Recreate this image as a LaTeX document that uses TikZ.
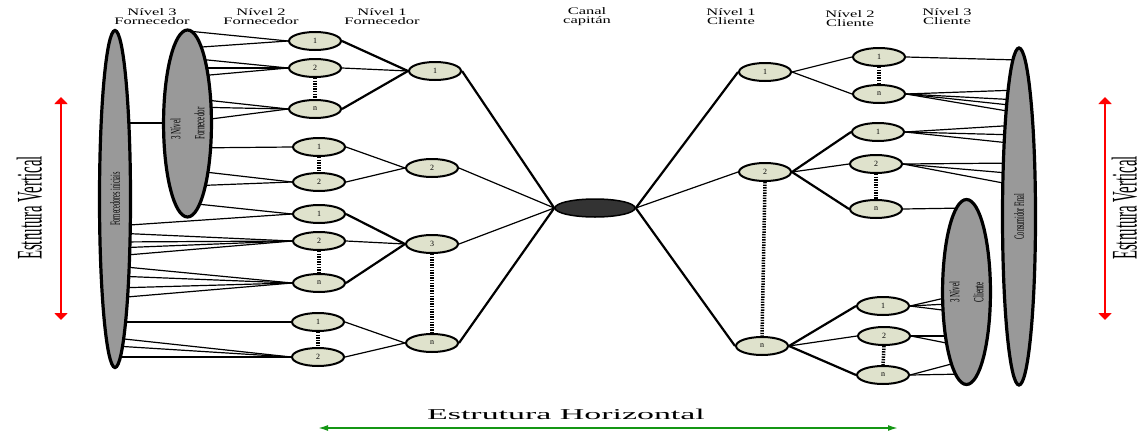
\documentclass[tikz,border=0pt]{standalone}
\usepackage{fontspec}
\setmainfont{Liberation Serif}
\usepackage{graphicx}
\usetikzlibrary{arrows.meta, shapes.geometric, backgrounds}

\definecolor{nodefill}{RGB}{223,226,204}
\definecolor{ovalgray}{RGB}{153,153,153}
\definecolor{hubfill}{RGB}{51,51,51}
\definecolor{axisgreen}{RGB}{20,150,20}

\newcommand{\wide}[2][1.65]{\scalebox{#1}[1]{#2}}
\newcommand{\narrow}[2][0.5]{\scalebox{#1}[1]{#2}}

\begin{document}
\begin{tikzpicture}[x=1pt, y=-1pt,
      lvl/.style={ellipse, draw, line width=2pt, fill=nodefill, minimum width=52pt, minimum height=18pt, inner sep=0pt, font=\fontsize{8}{8}\selectfont},
      oval/.style={ellipse, draw, line width=3.2pt, fill=ovalgray, inner sep=0pt, rotate=90, align=left, font=\fontsize{14}{24}\selectfont},
      hub/.style={ellipse, draw, line width=1.5pt, fill=hubfill, minimum width=80pt, minimum height=18pt},
      head/.style={align=center, font=\fontsize{10}{9}\selectfont},
      conn/.style={line width=1.2pt},
      link/.style={line width=2.2pt},
      dots/.style={line width=3.5pt, dash pattern=on 1.4pt off 1.2pt},
      vlabel/.style={rotate=90, inner sep=0pt, text height=25pt, text depth=0pt, font=\fontsize{36}{36}\selectfont},
      vaxis/.style={line width=2.8pt, red, {Triangle[width=13pt,length=7pt]}-{Triangle[width=13pt,length=7pt]}},
      haxis/.style={line width=1.6pt, axisgreen, {Latex[width=6pt,length=10pt]}-{Latex[width=6pt,length=10pt]}}]

      \useasboundingbox (0,0) rectangle (1145,431);

      % Headers
      \node[head] (h3f) at (152,17) {\wide{Nível 3}\\\wide{Fornecedor}};
      \node[head] (h2f) at (261,17) {\wide{Nível 2}\\\wide{Fornecedor}};
      \node[head] (h1f) at (382,17) {\wide{Nível 1}\\\wide{Fornecedor}};
      \node[head] (hcc) at (587,17) {\wide{Canal}\\\wide{capitán}};
      \node[head] (h1c) at (731,17) {\wide{Nível 1}\\\wide{Cliente}};
      \node[head] (h2c) at (850,19) {\wide{Nível 2}\\\wide{Cliente}};
      \node[head] (h3c) at (947,17) {\wide{Nível 3}\\\wide{Cliente}};

      % Big ovals
      \node[oval, minimum width=337pt, minimum height=31pt] (forn0) at (115,199) {\narrow[0.45]{Fornecedores iniciais}};
      \node[oval, minimum width=187pt, minimum height=45pt] (forn3) at (187.5,123.5) {\narrow{3 Nível}\\\narrow{Fornecedor}};
      \node[oval, minimum width=337pt, minimum height=33pt] (cons) at (1019,216.5) {\narrow[0.45]{Consumidor Final}};
      \node[oval, minimum width=185pt, minimum height=46pt] (cli3) at (966.5,292) {\narrow{3 Nível}\\\narrow{Cliente}};

      % Level 2 suppliers
      \node[lvl] (a1) at (315,41) {1};
      \node[lvl] (a2) at (315,68) {2};
      \node[lvl] (an) at (315,109) {n};
      \node[lvl] (b1) at (319,147) {1};
      \node[lvl] (b2) at (319,182) {2};
      \node[lvl] (c1) at (319,214) {1};
      \node[lvl] (c2) at (319,241) {2};
      \node[lvl] (cn) at (319,283) {n};
      \node[lvl] (d1) at (318,322) {1};
      \node[lvl] (d2) at (318,357) {2};

      % Level 1 suppliers
      \node[lvl] (f1) at (435,71) {1};
      \node[lvl] (f2) at (432,168) {2};
      \node[lvl] (f3) at (432,244) {3};
      \node[lvl] (fn) at (432,343) {n};

      \node[hub] (hub) at (595,208) {};

      % Level 1 clients
      \node[lvl] (k1) at (765,72) {1};
      \node[lvl] (k2) at (765,172) {2};
      \node[lvl] (kn) at (762,346) {n};

      % Level 2 clients
      \node[lvl] (l1) at (879,57) {1};
      \node[lvl] (ln) at (879,94) {n};
      \node[lvl] (m1) at (878,132) {1};
      \node[lvl] (m2) at (876,164) {2};
      \node[lvl] (mn) at (876,209) {n};
      \node[lvl] (n1) at (883,306) {1};
      \node[lvl] (n2) at (884,336) {2};
      \node[lvl] (nn) at (883,375) {n};

      % Lines into the ovals
      \begin{pgfonlayer}{background}
        \draw[conn] (forn0 |- 0,123) -- (forn3 |- 0,123);
        \foreach \y in {31,48} \draw[conn] (a1.west) -- (forn3 |- 0,\y);
        \foreach \y in {58,68,77} \draw[conn] (a2.west) -- (forn3 |- 0,\y);
        \foreach \y in {98,107,122} \draw[conn] (an.west) -- (forn3 |- 0,\y);
        \foreach \y in {148} \draw[conn] (b1.west) -- (forn3 |- 0,\y);
        \foreach \y in {170,186} \draw[conn] (b2.west) -- (forn3 |- 0,\y);
        \draw[conn] (c1.west) -- (forn3 |- 0,203);
        \draw[conn] (c1.west) -- (forn0 |- 0,226);
        \foreach \y in {233,242,248,256} \draw[conn] (c2.west) -- (forn0 |- 0,\y);
        \foreach \y in {266,276,288,298} \draw[conn] (cn.west) -- (forn0 |- 0,\y);
        \draw[conn] (d1.west) -- (forn0 |- 0,322);
        \foreach \y in {338,346,357} \draw[conn] (d2.west) -- (forn0 |- 0,\y);

        \draw[conn] (l1.east) -- (cons |- 0,60);
        \foreach \y in {90,100,106,113} \draw[conn] (ln.east) -- (cons |- 0,\y);
        \foreach \y in {125,135,144} \draw[conn] (m1.east) -- (cons |- 0,\y);
        \foreach \y in {163,174,186} \draw[conn] (m2.east) -- (cons |- 0,\y);
        \draw[conn] (mn.east) -- (cli3 |- 0,208);
        \foreach \y in {293,303,313} \draw[conn] (n1.east) -- (cli3 |- 0,\y);
        \foreach \y in {336,347} \draw[conn] (n2.east) -- (cli3 |- 0,\y);
        \foreach \y in {360,374} \draw[conn] (nn.east) -- (cli3 |- 0,\y);
      \end{pgfonlayer}

      % Supplier side
      \draw[link] (a1.east) -- (f1.west);
      \draw[conn] (a2.east) -- (f1.west);
      \draw[link] (an.east) -- (f1.west);
      \draw[conn] (b1.east) -- (f2.west);
      \draw[conn] (b2.east) -- (f2.west);
      \draw[link] (c1.east) -- (f3.west);
      \draw[conn] (c2.east) -- (f3.west);
      \draw[link] (cn.east) -- (f3.west);
      \draw[conn] (d1.east) -- (fn.west);
      \draw[conn] (d2.east) -- (fn.west);
      \draw[link] (f1.east) -- (hub.west);
      \draw[conn] (f2.east) -- (hub.west);
      \draw[conn] (f3.east) -- (hub.west);
      \draw[link] (fn.east) -- (hub.west);

      % Client side
      \draw[link] (hub.east) -- (k1.west);
      \draw[conn] (hub.east) -- (k2.west);
      \draw[link] (hub.east) -- (kn.west);
      \draw[conn] (k1.east) -- (l1.west);
      \draw[conn] (k1.east) -- (ln.west);
      \draw[link] (k2.east) -- (m1.west);
      \draw[conn] (k2.east) -- (m2.west);
      \draw[link] (k2.east) -- (mn.west);
      \draw[link] (kn.east) -- (n1.west);
      \draw[conn] (kn.east) -- (n2.west);
      \draw[link] (kn.east) -- (nn.west);

      % Dotted gaps
      \foreach \p/\q in {a2/an, b1/b2, c2/cn, d1/d2, f3/fn, k2/kn, l1/ln, m2/mn, n2/nn}
        \draw[dots] (\p.south) -- (\q.north);

      % Axes
      \coordinate (vtopL) at (61,97);
      \coordinate (vbotL) at (61,320);
      \coordinate (vtopR) at (1105,97);
      \coordinate (vbotR) at (1105,320);
      \draw[vaxis] (vtopL) -- (vbotL);
      \draw[vaxis] (vtopR) -- (vbotR);
      \node[vlabel] (vertL) at (29,208) {\narrow[0.41]{Estrutura Vertical}};
      \node[vlabel] (vertR) at (1124,208) {\narrow[0.41]{Estrutura Vertical}};

      \coordinate (hleft) at (318,428);
      \coordinate (hright) at (898,428);
      \draw[haxis] (hleft) -- (hright);
      \node[font=\fontsize{15}{15}\selectfont] (horiz) at (566,414) {\wide[2.26]{Estrutura Horizontal}};
    \end{tikzpicture}
\end{document}
